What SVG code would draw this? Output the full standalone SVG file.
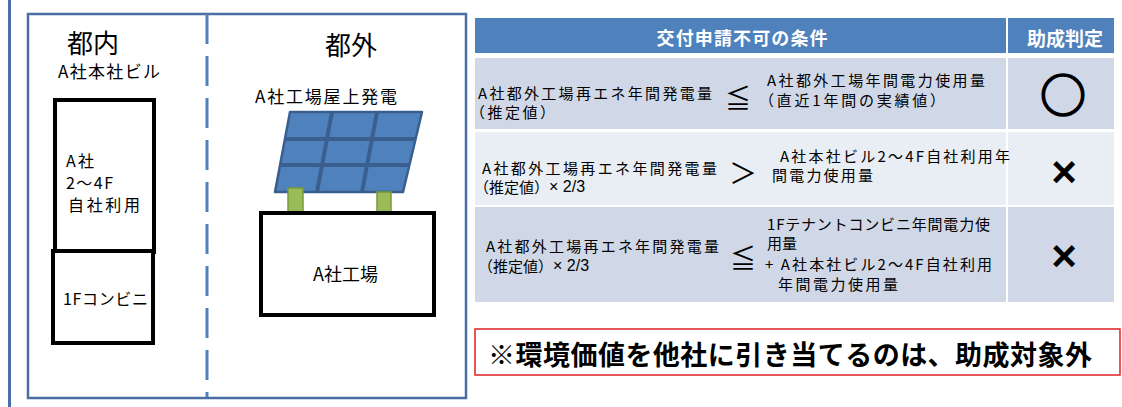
<svg xmlns="http://www.w3.org/2000/svg" width="1122" height="407" viewBox="0 0 1122 407">
<style>
text{font-family:"Noto Sans CJK JP","Liberation Sans",sans-serif;fill:#000;dominant-baseline:central}
.t17{font-size:17px}
.t16{font-size:16px}
.t18{font-size:18px}
.tt{font-size:15px}
.title{font-size:26px}
.hdr{font-size:18px;font-weight:bold;fill:#fff;text-anchor:middle}
.bld{fill:#fff;stroke:#000;stroke-width:4}
.c1{fill:#D0D8E8}
.c2{fill:#E9EDF4}
.hd{fill:#4F81BD}
.sym{font-size:26px;text-anchor:middle}
.mark{text-anchor:middle;font-weight:bold}
.lat{font-family:"Liberation Sans",sans-serif}
.post{fill:#9BBB59;stroke:#7A9A3A;stroke-width:1.5}
.grid{stroke:#3A5F8F;stroke-width:4;fill:none}
</style>
<rect width="1122" height="407" fill="#fff"/>
<line x1="9.5" y1="0" x2="9.5" y2="407" stroke="#4A6FA5" stroke-width="3"/>
<g id="panel-left">
<rect x="28" y="14" width="438" height="384" fill="none" stroke="#4A6FA5" stroke-width="2.5"/>
</g>
<g id="divider">
<line x1="207" y1="14" x2="207" y2="397" stroke="#5181BD" stroke-width="3" stroke-dasharray="30 12"/>
</g>
<g id="tonai">
<text class="title" x="67" y="41">都内</text>
<text class="t17" x="58" y="70" textLength="102">A社本社ビル</text>
</g>
<g id="bldg-upper">
<rect class="bld" x="55" y="100" width="99" height="152"/>
<text class="t16" x="66" y="160" textLength="28">A社</text>
<text class="t16" x="66" y="182" textLength="47">2〜4F</text>
<text class="t16" x="68" y="204" textLength="72">自社利用</text>
</g>
<g id="bldg-lower">
<rect class="bld" x="53" y="251" width="100" height="92"/>
<text class="t16" x="63" y="298" textLength="85">1Fコンビニ</text>
</g>
<g id="togai">
<text class="title" x="325" y="43">都外</text>
<text class="t17" x="255" y="95" textLength="142">A社工場屋上発電</text>
</g>
<g id="solar-panel">
<polygon points="290,112 422,112 403,192 275,192" fill="#4F81BD" stroke="#3A5F8F" stroke-width="2.5" stroke-linejoin="round"/>
<line class="grid" x1="285" y1="139" x2="415.6" y2="139"/>
<line class="grid" x1="280" y1="165" x2="409.4" y2="165"/>
<line class="grid" x1="332" y1="112" x2="317" y2="192"/>
<line class="grid" x1="377" y1="112" x2="362" y2="192"/>
<rect class="post" x="288" y="188" width="15" height="24"/>
<rect class="post" x="377" y="192" width="14" height="20"/>
</g>
<g id="factory">
<rect class="bld" x="261" y="213" width="173" height="102"/>
<text class="t18" x="313" y="273" textLength="65">A社工場</text>
</g>
<g id="table-header">
<rect class="hd" x="475" y="18" width="531" height="35"/>
<rect class="hd" x="1008" y="18" width="106" height="35"/>
<text class="hdr" x="742" y="37" textLength="171">交付申請不可の条件</text>
<text class="hdr" x="1065" y="37" style="font-size:19px" textLength="76">助成判定</text>
</g>
<g id="row1">
<rect class="c1" x="475" y="58" width="531" height="71"/>
<rect class="c1" x="1008" y="58" width="106" height="71"/>
<text class="tt" x="478" y="92" textLength="234">A社都外工場再エネ年間発電量</text>
<text class="tt" x="470" y="111" textLength="85">（推定値）</text>
<text class="sym" x="738" y="96">≦</text>
<text class="tt" x="767" y="79" textLength="218">A社都外工場年間電力使用量</text>
<text class="tt" x="759" y="99" textLength="186">（直近1年間の実績値）</text>
<text class="mark" x="1063" y="92" style="font-size:46px;stroke:#000;stroke-width:1.6">○</text>
</g>
<g id="row2">
<rect class="c2" x="475" y="132" width="531" height="73"/>
<rect class="c2" x="1008" y="132" width="106" height="73"/>
<text class="tt" x="482" y="167" textLength="235">A社都外工場再エネ年間発電量</text>
<text class="tt" x="474" y="186">（推定値）<tspan class="lat" style="font-size:16px">× 2/3</tspan></text>
<text class="sym" x="743" y="172" style="font-size:28px">＞</text>
<text class="tt" x="780" y="155" textLength="230">A社本社ビル2〜4F自社利用年</text>
<text class="tt" x="772" y="174" textLength="101">間電力使用量</text>
<text class="mark lat" x="1064" y="171" style="font-size:44px">×</text>
</g>
<g id="row3">
<rect class="c1" x="475" y="207" width="531" height="95"/>
<rect class="c1" x="1008" y="207" width="106" height="95"/>
<text class="tt" x="486" y="245" textLength="233">A社都外工場再エネ年間発電量</text>
<text class="tt" x="478" y="265">（推定値）<tspan class="lat" style="font-size:16px">× 2/3</tspan></text>
<text class="sym" x="743" y="256">≦</text>
<text class="tt" x="767" y="223" textLength="223">1Fテナントコンビニ年間電力使</text>
<text class="tt" x="767" y="242">用量</text>
<text class="tt" x="765" y="263" textLength="227">+ A社本社ビル2〜4F自社利用</text>
<text class="tt" x="778" y="283" textLength="120">年間電力使用量</text>
<text class="mark lat" x="1064" y="255" style="font-size:44px">×</text>
</g>
<g id="note">
<rect x="475" y="329" width="645" height="46" fill="#fff" stroke="#E02020" stroke-width="1.5"/>
<text x="488" y="353" textLength="604" style="font-size:27px;font-weight:bold">※環境価値を他社に引き当てるのは、助成対象外</text>
</g>
</svg>
